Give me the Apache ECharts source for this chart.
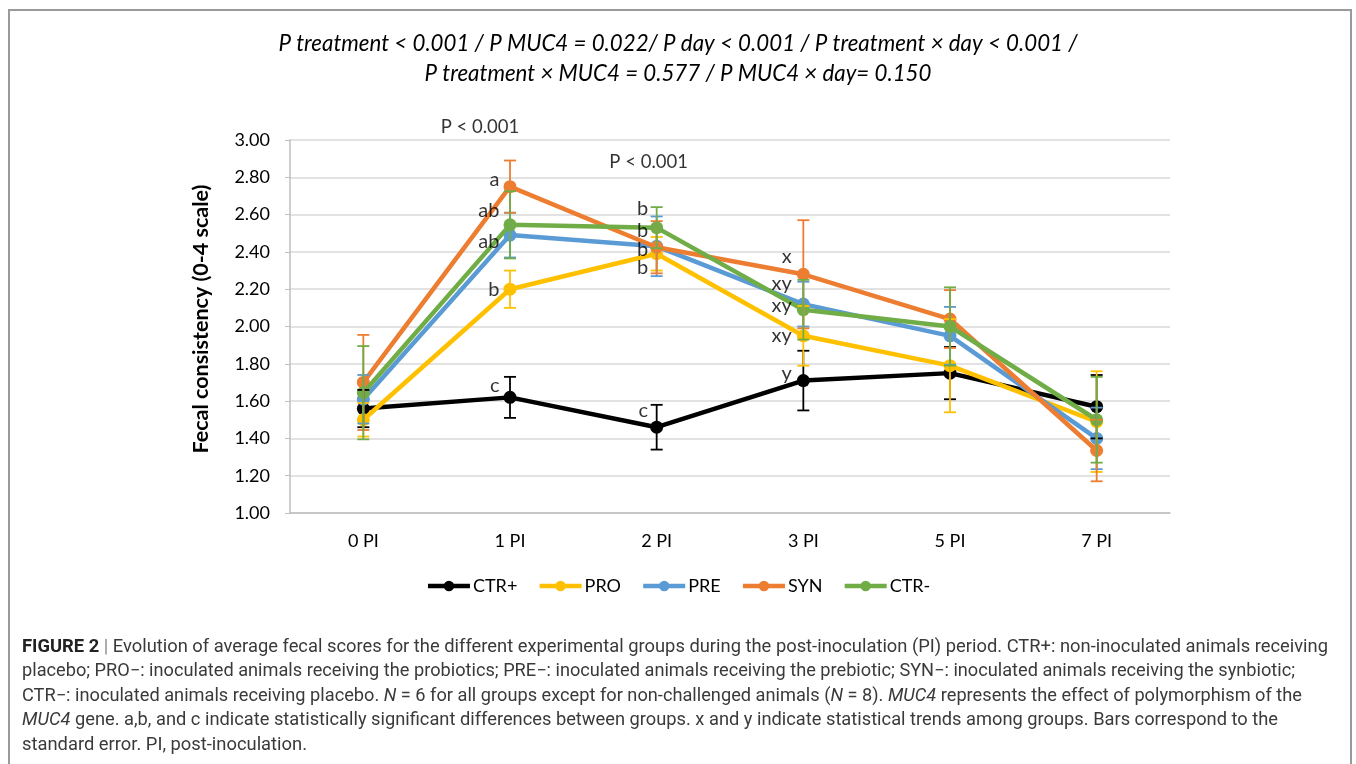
<!DOCTYPE html>
<html>
<head>
<meta charset="utf-8">
<script src="https://cdn.jsdelivr.net/npm/echarts@6/dist/echarts.min.js"></script>
<style>
  html, body { margin:0; padding:0; background:#fff; }
  #wrap { position:relative; width:1356px; height:764px; overflow:hidden; }
  #box { position:absolute; left:8px; top:9px; width:1344px; height:800px; border:2px solid #9a9a9a; box-sizing:border-box; }
  #chart { position:absolute; left:0; top:0; width:1356px; height:764px; }
  #caption { position:absolute; left:22px; top:636px; font-family:"Liberation Sans Narrow","Roboto","Liberation Sans",sans-serif; font-size:17.5px; color:#3a3a3a; }
  #caption .ln { position:absolute; left:0; white-space:nowrap; transform-origin:0 50%; }
  #caption b { color:#222; }
</style>
</head>
<body>
<div id="wrap">
  <div id="box"></div>
  <div id="chart"></div>
  <div id="caption"></div>
</div>
<script>
// ---------- data ----------
const categories = ['0 PI', '1 PI', '2 PI', '3 PI', '5 PI', '7 PI'];
const seriesNames = ['CTR+', 'PRO', 'PRE', 'SYN', 'CTR-'];
const ctrPos = [1.56, 1.62, 1.46, 1.71, 1.75, 1.57];
const ctrPosErr = [0.10, 0.11, 0.12, 0.16, 0.14, 0.17];
const pro = [1.50, 2.20, 2.39, 1.95, 1.79, 1.49];
const proErr = [0.09, 0.10, 0.09, 0.16, 0.25, 0.27];
const pre = [1.61, 2.49, 2.43, 2.12, 1.95, 1.40];
const preErr = [0.13, 0.12, 0.16, 0.12, 0.155, 0.165];
const syn = [1.70, 2.75, 2.425, 2.28, 2.04, 1.335];
const synErr = [0.255, 0.14, 0.14, 0.29, 0.155, 0.165];
const ctrNeg = [1.645, 2.545, 2.53, 2.09, 2.00, 1.50];
const ctrNegErr = [0.25, 0.18, 0.11, 0.16, 0.21, 0.23];
const yTicks = ['1.00','1.20','1.40','1.60','1.80','2.00','2.20','2.40','2.60','2.80','3.00'];

// significance letters: category index, y position, text
const letterCat = [1, 1, 1, 1, 1, 2, 2, 2, 2, 2, 3, 3, 3, 3, 3];
const letterVal = [2.786, 2.62, 2.458, 2.20, 1.686, 2.63, 2.517, 2.41, 2.314, 1.552, 2.373, 2.228, 2.115, 1.954, 1.75];
const letterText = ['a', 'ab', 'ab', 'b', 'c', 'b', 'b', 'b', 'b', 'c', 'x', 'xy', 'xy', 'xy', 'y'];

// P-value annotations
const pCat = [1, 2];
const pVal = [3.07, 2.88];
const pText = ['P < 0.001', 'P < 0.001'];

const titleLines = [
  'P treatment < 0.001 / P MUC4 = 0.022/ P day < 0.001 / P treatment × day < 0.001 /',
  'P treatment × MUC4 = 0.577 / P MUC4 × day= 0.150'
];

const captionLines = [
  '<b>FIGURE 2</b> <span style="color:#888">|</span> Evolution of average fecal scores for the different experimental groups during the post-inoculation (PI) period. CTR+: non-inoculated animals receiving',
  'placebo; PRO−: inoculated animals receiving the probiotics; PRE−: inoculated animals receiving the prebiotic; SYN−: inoculated animals receiving the synbiotic;',
  'CTR−: inoculated animals receiving placebo. <i>N</i> = 6 for all groups except for non-challenged animals (<i>N</i> = 8). <i>MUC4</i> represents the effect of polymorphism of the',
  '<i>MUC4</i> gene. a,b, and c indicate statistically significant differences between groups. x and y indicate statistical trends among groups. Bars correspond to the',
  'standard error. PI, post-inoculation.'
];

// ---------- styles ----------
const colors = ['#000000', '#FFC000', '#5B9BD5', '#ED7D31', '#70AD47'];
const FONT = 'Lato, "Open Sans", sans-serif';
const values = [ctrPos, pro, pre, syn, ctrNeg];
const errors = [ctrPosErr, proErr, preErr, synErr, ctrNegErr];
const letterDist = {1: 10, 2: 8, 3: 11};
const pOffset = {1: [-30, 0], 2: [-8, 0]};

const series = [];
values.forEach((vals, s) => {
  series.push({
    name: seriesNames[s], type: 'line', data: vals,
    symbol: 'circle', symbolSize: 13, z: 2 + s * 0.01,
    lineStyle: { width: 4.5, color: colors[s] },
    itemStyle: { color: colors[s] },
    emphasis: { disabled: true }, animation: false
  });
});
values.forEach((vals, s) => {
  series.push({
    name: seriesNames[s] + ' SE', type: 'custom', z: 3,
    data: vals.map((v, i) => [i, v, errors[s][i]]),
    renderItem: function (params, api) {
      const x = api.value(0), y = api.value(1), e = api.value(2);
      const top = api.coord([x, y + e]);
      const bot = api.coord([x, y - e]);
      const hw = 6;
      const st = { stroke: colors[s], lineWidth: 1.8 };
      return { type: 'group', children: [
        { type: 'line', shape: { x1: top[0], y1: top[1], x2: bot[0], y2: bot[1] }, style: st },
        { type: 'line', shape: { x1: top[0] - hw, y1: top[1], x2: top[0] + hw, y2: top[1] }, style: st },
        { type: 'line', shape: { x1: bot[0] - hw, y1: bot[1], x2: bot[0] + hw, y2: bot[1] }, style: st }
      ]};
    },
    animation: false, silent: true
  });
});
series.push({
  name: 'letters', type: 'scatter', z: 5, symbolSize: 1, silent: true,
  itemStyle: { color: 'rgba(0,0,0,0)' }, clip: false, animation: false,
  data: letterCat.map((c, i) => ({
    value: [c, letterVal[i]], name: letterText[i],
    label: { distance: letterDist[c] }
  })),
  label: { show: true, position: 'left', formatter: p => p.name,
    fontFamily: FONT, fontSize: 20, color: '#000' }
});
series.push({
  name: 'pvals', type: 'scatter', z: 5, symbolSize: 1, silent: true,
  itemStyle: { color: 'rgba(0,0,0,0)' }, clip: false, animation: false,
  data: pCat.map((c, i) => ({ value: [c, pVal[i]], name: pText[i], label: { offset: pOffset[c] } })),
  label: { show: true, position: 'inside', formatter: p => p.name,
    fontFamily: FONT, fontSize: 18.5, color: '#000' }
});

const chart = echarts.init(document.getElementById('chart'), null, { renderer: 'canvas' });
chart.setOption({
  backgroundColor: 'transparent',
  animation: false,
  title: {
    text: titleLines.join('\n'), left: 'center', top: 24,
    textStyle: { fontFamily: FONT, fontStyle: 'italic', fontWeight: 'normal', fontSize: 22.3, lineHeight: 30, color: '#000' }
  },
  grid: { left: 290, right: 186, top: 140, bottom: 251, containLabel: false },
  xAxis: {
    type: 'category', data: categories, boundaryGap: true,
    axisLine: { lineStyle: { color: '#bfbfbf', width: 1.5 } },
    axisTick: { show: false },
    axisLabel: { margin: 19, fontFamily: FONT, fontSize: 18, color: '#000' }
  },
  yAxis: {
    type: 'value', min: 1.0, max: 3.0, interval: 0.2,
    name: 'Fecal consistency (0-4 scale)', nameLocation: 'middle', nameRotate: 90, nameGap: 78,
    nameTextStyle: { fontFamily: FONT, fontWeight: 'bold', fontSize: 21.5, color: '#000', padding: [0, 0, 0, 15] },
    axisLine: { show: true, lineStyle: { color: '#bfbfbf', width: 1.5 } },
    axisTick: { show: true, length: 5, lineStyle: { color: '#bfbfbf' } },
    splitLine: { lineStyle: { color: '#d9d9d9', width: 1.5 } },
    axisLabel: { margin: 20, fontFamily: FONT, fontSize: 18, color: '#000',
      formatter: v => yTicks[Math.round((v - 1) / 0.2)] }
  },
  legend: {
    data: seriesNames, bottom: 164, left: 'center', itemWidth: 42, itemHeight: 13, itemGap: 20,
    lineStyle: { width: 4.5 },
    textStyle: { fontFamily: FONT, fontSize: 18, color: '#000', padding: [0, 0, 0, -2] },
    selectedMode: false
  },
  series: series
});

// caption
const cap = document.getElementById('caption');
const capTargets = [1306, 1273, 1280, 1256, 285];
captionLines.forEach((t, i) => {
  const d = document.createElement('div');
  d.className = 'ln';
  d.style.top = (i * 24.4) + 'px';
  d.innerHTML = t;
  cap.appendChild(d);
  const w = d.getBoundingClientRect().width;
  d.style.transform = 'scaleX(' + (capTargets[i] / w) + ')';
});
</script>
</body>
</html>
